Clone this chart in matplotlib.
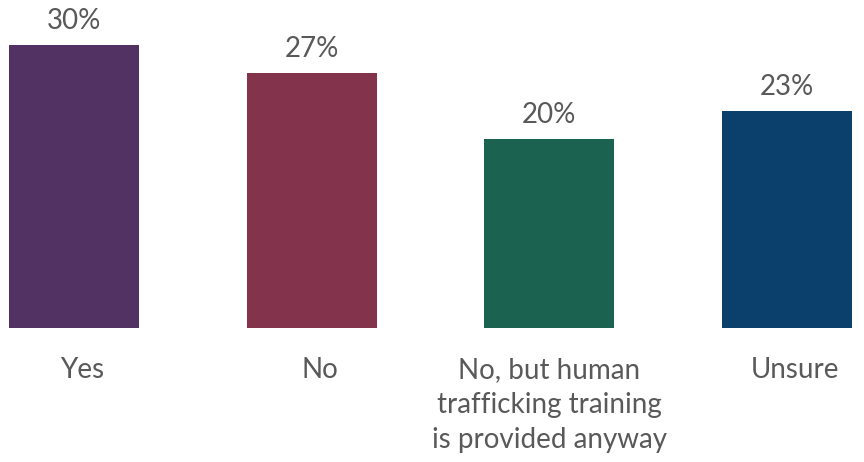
import matplotlib
matplotlib.use("Agg")
import matplotlib.pyplot as plt
import matplotlib.transforms as mtransforms

categories = ["Yes", "No", "No, but human\ntrafficking training\nis provided anyway", "Unsure"]
values = [30, 27, 20, 23]
colors = ["#513263", "#84334C", "#1B6350", "#0B3F6C"]

plt.rcParams['font.family'] = ['Lato', 'DejaVu Sans']
text_color = "#595959"

fig = plt.figure(figsize=(8.64, 4.62), dpi=100)
ax = fig.add_axes([0, 0.29, 1, 0.71])
x = list(range(len(categories)))
bars = ax.bar(x, values, width=0.547, color=colors)
ax.set_xlim(-0.311, 3.324)
ax.set_ylim(0, 34.78)
for xi, v in zip(x, values):
    ax.annotate(f"{v}%", (xi, v), xytext=(0, 8), textcoords="offset points",
                ha="center", va="bottom", fontsize=20, color=text_color)
for s in ax.spines.values():
    s.set_visible(False)
ax.set_yticks([])
ax.set_xticks(x)
ax.set_xticklabels(categories, fontsize=20, color=text_color, linespacing=1.42, va="top")
ax.tick_params(axis="x", length=0, pad=21)
shifts = [8, 8, 0, 8]
for lbl, dx in zip(ax.get_xticklabels(), shifts):
    lbl.set_transform(lbl.get_transform() + mtransforms.ScaledTranslation(dx / 100, 0, fig.dpi_scale_trans))
fig.savefig("out.png", dpi=100)
